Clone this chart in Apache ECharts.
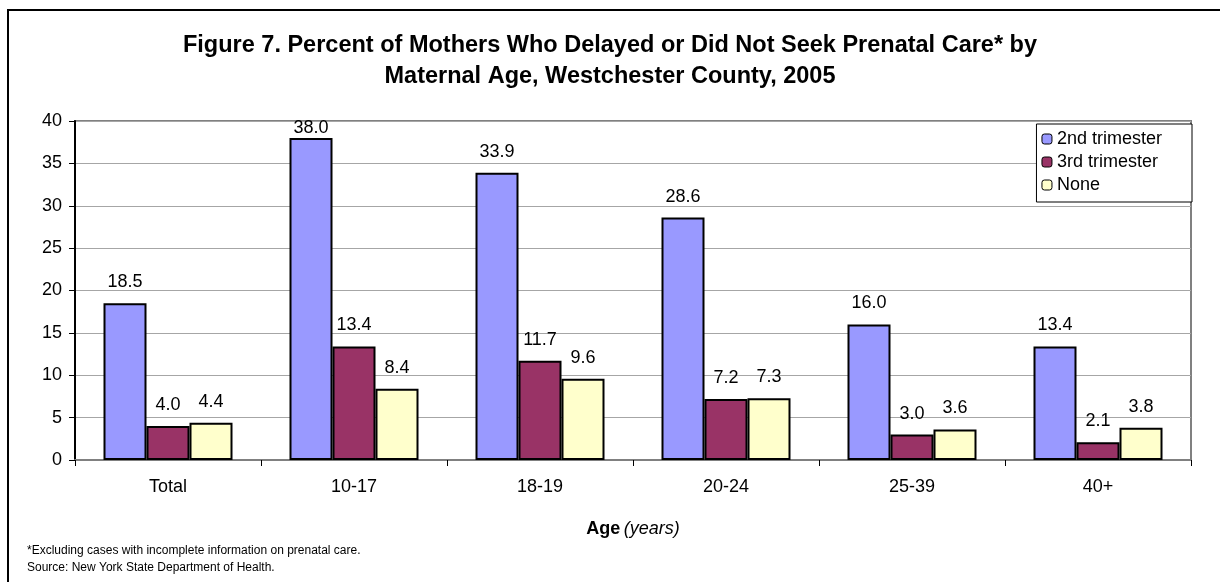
<!DOCTYPE html>
<html>
<head>
<meta charset="utf-8">
<title>Figure 7</title>
<script src="https://cdn.jsdelivr.net/npm/echarts@6/dist/echarts.min.js"></script>
<style>
  html, body { margin: 0; padding: 0; background: #fff; }
  #chart { width: 1220px; height: 582px; }
</style>
</head>
<body>
<div id="chart"></div>
<script>
// data
const ageGroups = ['Total', '10-17', '18-19', '20-24', '25-39', '40+']
const secondTrimester = [18.5, 38.0, 33.9, 28.6, 16.0, 13.4]
const thirdTrimester = [4.0, 13.4, 11.7, 7.2, 3.0, 2.1]
const noCare = [4.4, 8.4, 9.6, 7.3, 3.6, 3.8]

const font = 'Liberation Sans, Arial, sans-serif'

// label sits closer to the bar when it would run past the top of the plot
function withLabels (values) {
  return values.map(v => v > 36 ? { value: v, label: { distance: 1 } } : v)
}

function barSeries (name, color, values) {
  return {
    name: name,
    type: 'bar',
    barWidth: 43,
    barGap: '0%',
    data: withLabels(values),
    itemStyle: { color: color, borderColor: '#000', borderWidth: 2 },
    label: {
      show: true,
      position: 'top',
      distance: 12,
      color: '#000',
      fontFamily: font,
      fontSize: 18,
      formatter: p => Number(p.value).toFixed(1)
    },
    animation: false
  }
}

const chart = echarts.init(document.getElementById('chart'))
chart.setOption({
  backgroundColor: '#fff',
  textStyle: { fontFamily: font },
  title: {
    text: 'Figure 7. Percent of Mothers Who Delayed or Did Not Seek Prenatal Care* by\nMaternal Age, Westchester County, 2005',
    left: 'center',
    top: 25,
    textStyle: { fontFamily: font, fontSize: 23.5, fontWeight: 'bold', color: '#000', lineHeight: 31 }
  },
  legend: {
    orient: 'vertical',
    right: 28,
    top: 124,
    padding: [5, 30, 7, 5],
    itemGap: 3,
    itemWidth: 10,
    itemHeight: 10,
    borderColor: '#000',
    borderWidth: 1,
    backgroundColor: '#fff',
    itemStyle: { borderColor: '#000', borderWidth: 1 },
    textStyle: { fontFamily: font, fontSize: 18, color: '#000', lineHeight: 20 },
    data: ['2nd trimester', '3rd trimester', 'None']
  },
  grid: {
    left: 75,
    right: 29,
    top: 121,
    bottom: 122,
    show: true,
    borderColor: '#808080',
    borderWidth: 2
  },
  xAxis: {
    type: 'category',
    data: ageGroups,
    name: '{b|Age} {i|(years)}',
    nameLocation: 'middle',
    nameGap: 60,
    nameTextStyle: {
      rich: {
        b: { fontFamily: font, fontSize: 18, fontWeight: 'bold', color: '#000' },
        i: { fontFamily: font, fontSize: 18, fontStyle: 'italic', color: '#000' }
      }
    },
    axisLine: { lineStyle: { color: '#808080', width: 2 } },
    axisTick: { show: true, length: 6, lineStyle: { color: '#000', width: 1 } },
    axisLabel: { color: '#000', fontSize: 18, fontFamily: font, margin: 18 }
  },
  yAxis: {
    type: 'value',
    min: 0,
    max: 40,
    interval: 5,
    axisLine: { show: true, lineStyle: { color: '#000', width: 2 } },
    axisTick: { show: true, length: 6, lineStyle: { color: '#000' } },
    axisLabel: { color: '#000', fontSize: 18, fontFamily: font, margin: 13 },
    splitLine: { lineStyle: { color: '#a6a6a6', width: 1 } }
  },
  series: [
    barSeries('2nd trimester', '#9999ff', secondTrimester),
    barSeries('3rd trimester', '#993366', thirdTrimester),
    barSeries('None', '#ffffcc', noCare)
  ],
  graphic: [
    // outer frame, runs off the right and bottom like the original
    {
      type: 'rect',
      shape: { x: 8, y: 10, width: 1300, height: 700 },
      style: { fill: null, stroke: '#000', lineWidth: 2 },
      silent: true
    },
    {
      type: 'text',
      left: 27,
      top: 542,
      style: {
        text: '*Excluding cases with incomplete information on prenatal care.\nSource: New York State Department of Health.',
        font: '12px ' + font,
        fill: '#000',
        lineHeight: 17
      }
    }
  ]
})
</script>
</body>
</html>
